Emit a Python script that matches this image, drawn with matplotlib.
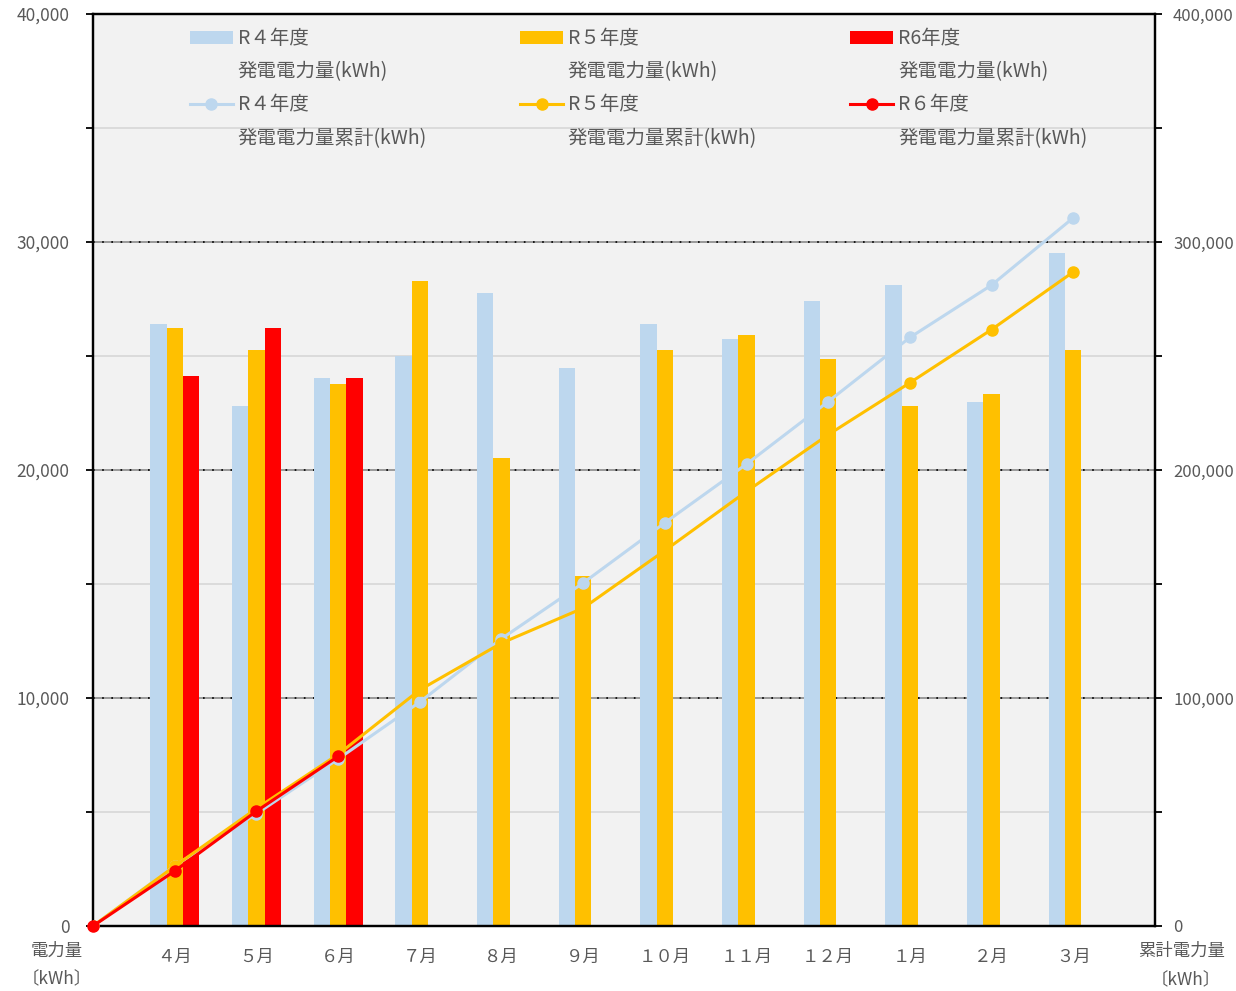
import matplotlib
matplotlib.use("Agg")
import matplotlib.pyplot as plt
from matplotlib.lines import Line2D
from matplotlib.patches import Patch
import numpy as np

plt.rcParams['font.family'] = ['Noto Sans CJK JP', 'DejaVu Sans']

months = ["４月", "５月", "６月", "７月", "８月", "９月", "１０月", "１１月", "１２月", "１月", "２月", "３月"]

r4_gen = [26400, 22800, 24030, 25000, 27760, 24470, 26400, 25750, 27410, 28110, 22980, 29520]
r5_gen = [26230, 25260, 23770, 28290, 20530, 15350, 25260, 25920, 24870, 22800, 23330, 25260]
r6_gen = [24120, 26230, 24030]

r4_cum = [0, 26400, 49200, 73230, 98230, 125990, 150460, 176860, 202610, 230020, 258130, 281110, 310630]
r5_cum = [0, 26230, 51490, 75260, 103550, 124080, 139430, 164690, 190610, 215480, 238280, 261610, 286870]
r6_cum = [0, 24120, 50350, 74380]

c4 = "#BDD7EE"
c5 = "#FFC000"
c6 = "#FF0000"
txt = "#595959"

fig = plt.figure(figsize=(12.36, 9.91), dpi=100)
ax = fig.add_axes([93/1236, 1-926/991, (1155-93)/1236, (926-14)/991])
ax.set_facecolor("#F2F2F2")
ax2 = ax.twinx()

x = np.arange(1, 13)
w = 0.2
ax.bar(x - w, r4_gen, w, color=c4, zorder=2)
ax.bar(x, r5_gen, w, color=c5, zorder=2)
ax.bar(np.arange(1, len(r6_gen) + 1) + w, r6_gen, w, color=c6, zorder=2)

ax.set_xlim(0, 13)
ax.set_ylim(0, 40000)
ax2.set_ylim(0, 400000)

ax.set_yticks(np.arange(0, 40001, 10000))
ax.set_yticks(np.arange(5000, 40000, 10000), minor=True)
ax2.set_yticks(np.arange(0, 400001, 100000))
ax2.set_yticks(np.arange(50000, 400000, 100000), minor=True)
ax.yaxis.set_major_formatter(matplotlib.ticker.FuncFormatter(lambda v, p: f"{int(v):,}"))
ax2.yaxis.set_major_formatter(matplotlib.ticker.FuncFormatter(lambda v, p: f"{int(v):,}"))

ax.grid(True, axis='y', which='minor', color="#D9D9D9", lw=1.3, zorder=0.5)
for yv in ax.get_yticks()[1:-1]:
    ax.axhline(yv, color="#8A8A8A", lw=1.2, zorder=0.6)
    ax.axhline(yv, color="#000000", lw=1.2, ls=(0, (1, 4.5)), zorder=0.7)

xs = np.arange(0, 13)
ax2.plot(xs, r4_cum, color=c4, lw=2.2, marker='o', ms=8, zorder=3)
ax2.plot(xs, r5_cum, color=c5, lw=2.2, marker='o', ms=8, zorder=4)
ax2.plot(xs[:len(r6_cum)], r6_cum, color=c6, lw=2.2, marker='o', ms=8, zorder=5, clip_on=False)

ax.set_xticks(x)
ax.set_xticklabels(months)
ax.tick_params(axis='x', length=0, pad=16, labelsize=12.5, labelcolor=txt)
ax.tick_params(axis='y', which='both', length=5, width=1.3, direction='out', pad=12,
               labelsize=12.5, labelcolor=txt, color='black')
ax2.tick_params(axis='y', which='both', length=5, width=1.3, direction='out', pad=8,
                labelsize=12, labelcolor=txt, color='black')
for a in (ax, ax2):
    for s in a.spines.values():
        s.set_linewidth(1.6)
        s.set_color('black')

fig.text(57/1236, 1-951/991, "電力量", ha='center', va='center', fontsize=12.5, color=txt)
fig.text(57/1236, 1-979/991, "〔kWh〕", ha='center', va='center', fontsize=12.5, color=txt)
fig.text(1182/1236, 1-951/991, "累計電力量", ha='center', va='center', fontsize=12.5, color=txt)
fig.text(1186/1236, 1-980/991, "〔kWh〕", ha='center', va='center', fontsize=12.5, color=txt)

blank = Patch(facecolor='none', edgecolor='none')
handles = [
    Patch(facecolor=c4), blank, Line2D([], [], color=c4, lw=2.2, marker='o', ms=8), blank,
    Patch(facecolor=c5), blank, Line2D([], [], color=c5, lw=2.2, marker='o', ms=8), blank,
    Patch(facecolor=c6), blank, Line2D([], [], color=c6, lw=2.2, marker='o', ms=8), blank,
]
labels = [
    "R４年度", "発電電力量(kWh)", "R４年度", "発電電力量累計(kWh)",
    "R５年度", "発電電力量(kWh)", "R５年度", "発電電力量累計(kWh)",
    "R6年度", "発電電力量(kWh)", "R６年度", "発電電力量累計(kWh)",
]
leg = ax2.legend(handles, labels, ncol=3, loc='upper left',
                 bbox_to_anchor=((190 - 93) / 1062, 1 - 14 / 912),
                 frameon=False, fontsize=14, handlelength=2.2, handleheight=0.65,
                 handletextpad=0.25, columnspacing=4.8, labelspacing=0.63,
                 borderaxespad=0, borderpad=0)
for t in leg.get_texts():
    t.set_color(txt)

fig.savefig("out.png", dpi=100)
